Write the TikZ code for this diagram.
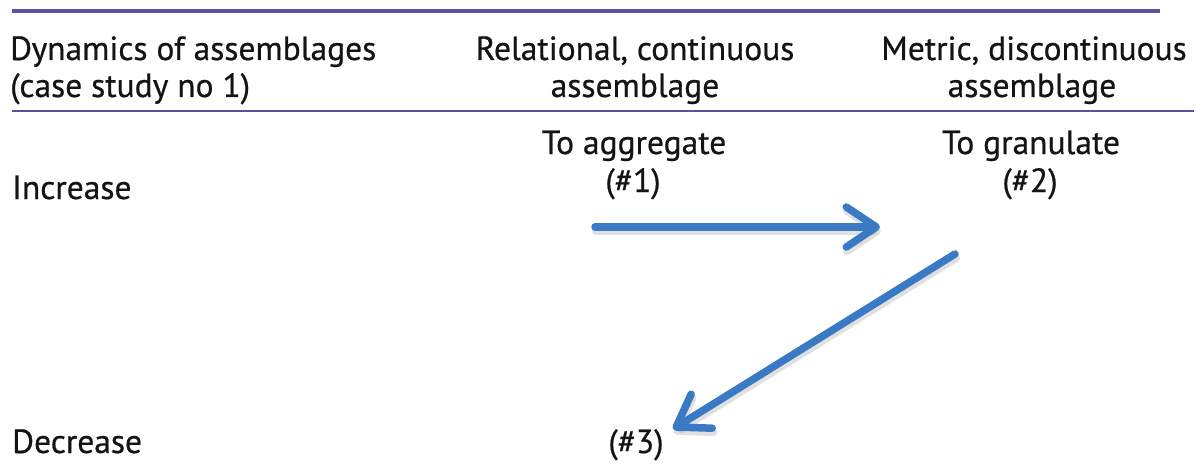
\documentclass[tikz,border=0pt]{standalone}
\usepackage{fontspec}
\setmainfont[FakeBold=0.6]{PT Sans}
\usetikzlibrary{arrows.meta}
\definecolor{rulecol}{HTML}{5B519E}
\definecolor{arrowblue}{HTML}{3A79C3}
\begin{document}
\begin{tikzpicture}[x=1pt,y=-1pt,
  txt/.style={inner sep=0pt,font=\fontsize{33.5}{38}\selectfont,text=black!92},
  bigarrow/.style={line width=7.5pt,draw=arrowblue,line cap=round,
    -{Straight Barb[length=30pt,width=40pt,line cap=round,line join=round]}},
  shadowarrow/.style={line width=8pt,draw=black,opacity=0.12,line cap=round,
    -{Straight Barb[length=30pt,width=40pt,line cap=round,line join=round]}}]
\useasboundingbox (0,0) rectangle (1198,468);
\fill[white] (0,0) rectangle (1198,468);
% rules
\coordinate (r1a) at (12,11);
\coordinate (r1b) at (1160,11);
\coordinate (r2a) at (12,111);
\coordinate (r2b) at (1194,111);
\draw[rulecol,line width=3.2pt] (r1a) -- (r1b);
\draw[rulecol,line width=2.2pt] (r2a) -- (r2b);
% header
\node[txt,anchor=base west] (h1a) at (10,60) {Dynamics of assemblages};
\node[txt,anchor=base west] (h1b) at (10,97) {(case study no 1)};
\node[txt,anchor=base] (h2a) at (635,60) {Relational, continuous};
\node[txt,anchor=base] (h2b) at (635,97) {assemblage};
\node[txt,anchor=base] (h3a) at (1034,60) {Metric, discontinuous};
\node[txt,anchor=base] (h3b) at (1032,97) {assemblage};
% body
\node[txt,anchor=base west] (inc) at (12,199) {Increase};
\node[txt,anchor=base] (agg) at (634,154) {To aggregate};
\node[txt,anchor=base] (n1) at (633,192) {(\#1)};
\node[txt,anchor=base] (gran) at (1031,154) {To granulate};
\node[txt,anchor=base] (n2) at (1030,192) {(\#2)};
\node[txt,anchor=base west] (dec) at (12,453) {Decrease};
\node[txt,anchor=base] (n3) at (636,453) {(\#3)};
% arrows
\coordinate (a1s) at (595,227);
\coordinate (a1e) at (880,227);
\coordinate (a2s) at (955,254);
\coordinate (a2e) at (673,429);
\draw[shadowarrow] ([shift={(1,4)}]a1s) -- ([shift={(1,4)}]a1e);
\draw[shadowarrow] ([shift={(1,4)}]a2s) -- ([shift={(1,4)}]a2e);
\draw[bigarrow] (a1s) -- (a1e);
\draw[bigarrow] (a2s) -- (a2e);
\end{tikzpicture}
\end{document}
